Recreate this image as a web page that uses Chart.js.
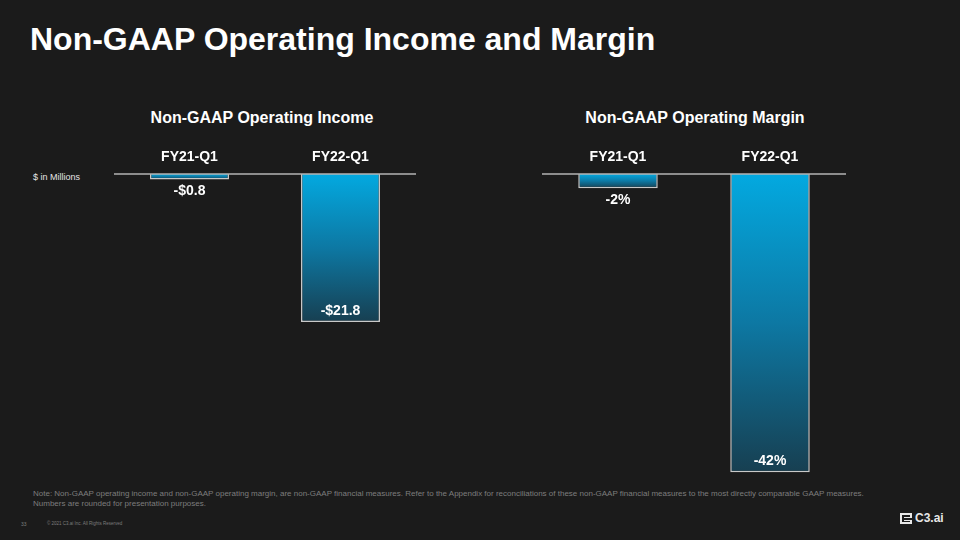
<!DOCTYPE html>
<html>
<head>
<meta charset="utf-8">
<script src="https://cdn.jsdelivr.net/npm/chart.js@4.4.1/dist/chart.umd.min.js"></script>
<style>
  html, body { margin: 0; padding: 0; }
  body { width: 960px; height: 540px; background: #1b1b1b; position: relative; overflow: hidden; font-family: Arial, "Liberation Sans", sans-serif; color: #fff; }
  .abs { position: absolute; }
  #title { left: 30px; top: 21px; font-size: 32px; font-weight: bold; white-space: nowrap; }
  .ctitle { top: 109px; font-size: 16px; font-weight: bold; white-space: nowrap; transform: translateX(-50%); }
  #unit { left: 33px; top: 172px; font-size: 9px; color: #e6e6e6; }
  .wrap { top: 140px; height: 340px; }
  #note { left: 33px; top: 489px; font-size: 8px; line-height: 10px; color: #7d7d7d; white-space: nowrap; }
  #page { left: 21px; top: 521px; font-size: 5px; color: #7d7d7d; }
  #copy { left: 47px; top: 521px; font-size: 4.5px; color: #7d7d7d; white-space: nowrap; }
  #logo { left: 900px; top: 511px; font-size: 12px; font-weight: bold; color: #e8e8e8; display: flex; align-items: center; gap: 3px; }
  #logo .ico { width: 12px; height: 11px; border: 2px solid #e8e8e8; box-sizing: border-box; position: relative; }
  #logo .ico::after { content: ''; position: absolute; left: 2px; right: -2px; top: 2.5px; height: 2px; border-top: 1px solid #e8e8e8; border-bottom: 1px solid #e8e8e8; background: #1b1b1b; }
</style>
</head>
<body>
<div id="title" class="abs">Non-GAAP Operating Income and Margin</div>
<div class="abs ctitle" style="left:262px">Non-GAAP Operating Income</div>
<div class="abs ctitle" style="left:695px">Non-GAAP Operating Margin</div>
<div id="unit" class="abs">$ in Millions</div>
<div class="abs wrap" style="left:114px;width:302px"><canvas id="incomeChart"></canvas></div>
<div class="abs wrap" style="left:542px;width:304px"><canvas id="marginChart"></canvas></div>
<div id="note" class="abs">Note: Non-GAAP operating income and non-GAAP operating margin, are non-GAAP financial measures. Refer to the Appendix for reconciliations of these non-GAAP financial measures to the most directly comparable GAAP measures.<br>Numbers are rounded for presentation purposes.</div>
<div id="page" class="abs">33</div>
<div id="copy" class="abs">© 2021 C3.ai Inc. All Rights Reserved</div>
<div id="logo" class="abs"><span class="ico"></span><span>C3.ai</span></div>

<script>
'use strict';
// data
const categories = ['FY21-Q1', 'FY22-Q1'];
const incomeValues = [-0.8, -21.8];   // $ millions
const marginValues = [-2, -42];       // percent
const incomeMin = -45.1;
const marginMin = -43.1;

const fmtIncome = (v) => '-$' + Math.abs(v).toFixed(1);
const fmtMargin = (v) => '-' + Math.abs(v) + '%';

function barGradient(c) {
  const chart = c.chart;
  const y = chart.scales.y;
  if (!chart.chartArea || !y) return '#05a8de';
  const v = c.raw;
  const y0 = y.getPixelForValue(0);
  const y1 = y.getPixelForValue(v);
  const g = chart.ctx.createLinearGradient(0, y0, 0, y1);
  g.addColorStop(0, '#03a9e0');
  g.addColorStop(0.5, '#0d78a3');
  g.addColorStop(1, '#173f51');
  return g;
}

// baseline, category labels above, value labels on bars
const slidePlugin = {
  id: 'slide',
  afterDatasetsDraw(chart, args, opts) {
    const { ctx, chartArea } = chart;
    const x = chart.scales.x;
    ctx.save();
    ctx.strokeStyle = '#b4b4b4';
    ctx.lineWidth = 1.5;
    ctx.beginPath();
    ctx.moveTo(chartArea.left, chartArea.top);
    ctx.lineTo(chartArea.right, chartArea.top);
    ctx.stroke();

    ctx.fillStyle = '#ffffff';
    ctx.font = 'bold 14px Arial, "Liberation Sans", sans-serif';
    ctx.textAlign = 'center';
    ctx.textBaseline = 'middle';
    categories.forEach((c, i) => {
      ctx.fillText(c, x.getPixelForValue(i), chartArea.top - 17);
    });

    const meta = chart.getDatasetMeta(0);
    meta.data.forEach((bar, i) => {
      const v = chart.data.datasets[0].data[i];
      const h = bar.y - bar.base;
      const ly = h > 40 ? bar.y - 11 : bar.y + 12;
      ctx.fillText(opts.fmt(v), bar.x, ly);
    });
    ctx.restore();
  }
};

function makeChart(id, values, min, fmt) {
  return new Chart(document.getElementById(id).getContext('2d'), {
    type: 'bar',
    data: {
      labels: categories,
      datasets: [{
        data: values,
        backgroundColor: barGradient,
        borderColor: '#c9c9c9',
        borderWidth: 1.5,
        borderSkipped: 'start',
        barPercentage: 0.523,
        categoryPercentage: 1,
      }],
    },
    options: {
      responsive: true,
      maintainAspectRatio: false,
      animation: false,
      layout: { padding: { top: 34, bottom: 0, left: 0, right: 0 } },
      plugins: { legend: { display: false }, tooltip: { enabled: false }, slide: { fmt } },
      scales: {
        x: { display: false },
        y: { display: false, min, max: 0 },
      },
    },
    plugins: [slidePlugin],
  });
}

makeChart('incomeChart', incomeValues, incomeMin, fmtIncome);
makeChart('marginChart', marginValues, marginMin, fmtMargin);
</script>
</body>
</html>
